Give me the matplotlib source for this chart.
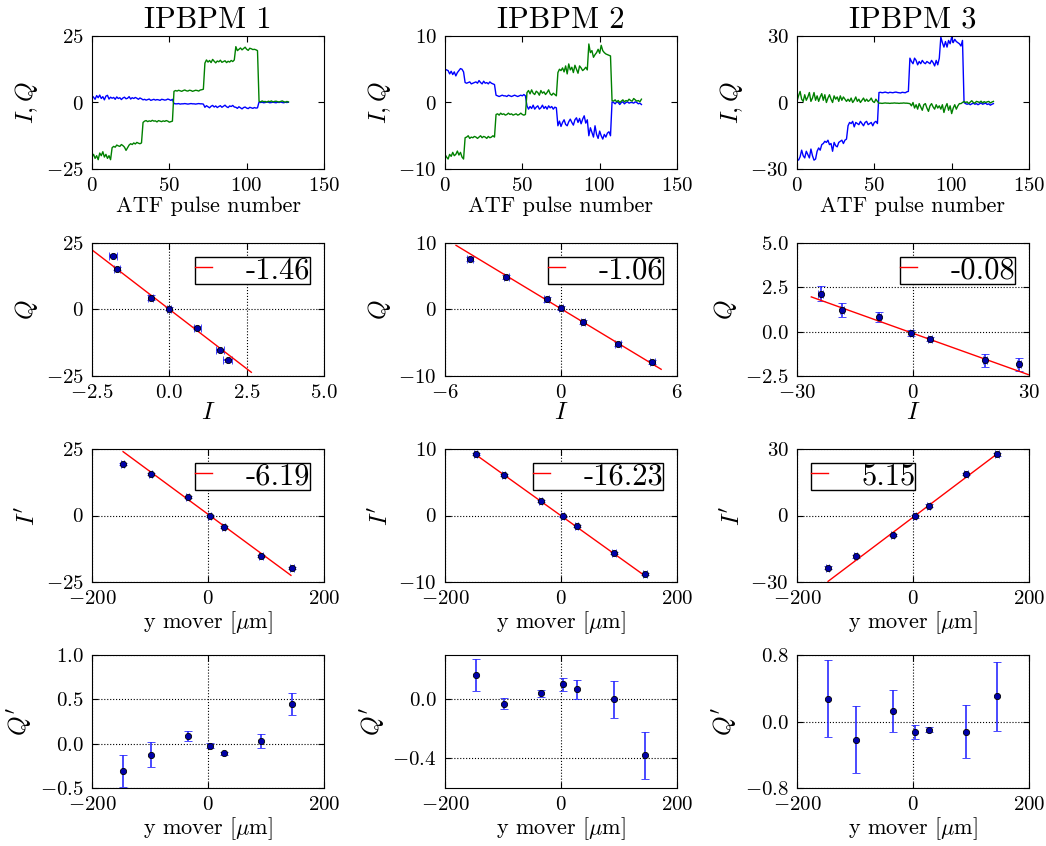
import matplotlib
matplotlib.use("Agg")
from matplotlib import pyplot as plt
import numpy as np

plt.rcParams['font.family'] = 'serif'
plt.rcParams['font.serif'] = ['cmr10']
plt.rcParams['mathtext.fontset'] = 'cm'
plt.rcParams['axes.formatter.use_mathtext'] = True
plt.rcParams['xtick.direction'] = 'in'
plt.rcParams['ytick.direction'] = 'in'
plt.rcParams['xtick.top'] = True
plt.rcParams['ytick.right'] = True
plt.rcParams['xtick.major.size'] = 4
plt.rcParams['ytick.major.size'] = 4
plt.rcParams['xtick.major.pad'] = 6
plt.rcParams['ytick.major.pad'] = 6
plt.rcParams['xtick.labelsize'] = 15
plt.rcParams['ytick.labelsize'] = 15
plt.rcParams['axes.labelsize'] = 16

titles = ["IPBPM 1", "IPBPM 2", "IPBPM 3"]

# ---- row 1: I and Q vs ATF pulse number (segments of 13,20,20,20,20,15,20 pulses)
pulse = np.arange(128)

I_1 = ([2.5, 2.0, 1.2, 2.6, 1.8, 2.8, 1.5, 2.2, 1.0, 2.4, 2.7, 1.3, 2.0]
       + [1.6, 1.9, 1.2, 2.1, 1.5, 1.8, 1.1, 1.7, 2.0, 1.4, 1.6, 2.2, 1.3, 1.8, 1.5, 1.9, 1.6, 1.2, 1.7, 1.4]
       + [1.0, 1.2, 0.9, 1.1, 1.3, 0.8, 1.0, 1.2, 0.9, 1.1, 1.0, 0.8, 1.2, 1.1, 0.9, 1.0, 1.3, 1.1, 0.8, 1.2]
       + [-0.4, -0.5, -0.5, -0.4, -0.6, -0.5, -0.5, -0.4, -0.5, -0.6, -0.5, -0.4, -0.5, -0.5, -0.6, -0.5, -0.4, -0.5, -0.5, -0.6]
       + [-1.8, -1.2, -1.6, -2.0, -1.4, -1.1, -1.7, -1.3, -1.9, -1.5, -1.2, -1.8, -1.4, -1.0, -1.6, -1.9, -1.3, -1.5, -1.1, -1.7]
       + [-1.8, -2.2, -1.6, -2.0, -2.4, -1.9, -1.7, -2.1, -2.3, -1.8, -2.0, -2.2, -1.9, -2.1, -2.0]
       + [0.2, 0.0, 0.1, -0.1, 0.0, 0.2, 0.1, -0.1, 0.0, 0.1, 0.0, -0.1, 0.1, 0.0, 0.2, 0.0, -0.1, 0.1, 0.0, 0.1])
Q_1 = ([-20.5, -19.5, -21.0, -20.0, -21.5, -19.0, -20.0, -18.5, -20.5, -19.5, -21.0, -20.0, -21.5]
       + [-17.0, -16.5, -16.8, -16.0, -16.3, -16.5, -15.8, -16.2, -16.8, -18.0, -17.0, -16.0, -15.5, -15.8, -15.2, -15.6, -15.0, -15.3, -15.5, -15.2]
       + [-7.5, -7.0, -6.8, -7.2, -6.9, -7.1, -6.7, -7.0, -6.9, -7.3, -6.8, -7.0, -7.2, -6.9, -7.1, -6.8, -7.0, -7.4, -7.2, -7.0]
       + [4.2, 4.5, 4.3, 4.6, 4.4, 4.2, 4.5, 4.7, 4.4, 4.3, 4.6, 4.5, 4.2, 4.4, 4.6, 4.5, 4.3, 4.7, 4.8, 5.0]
       + [14.8, 16.0, 15.2, 15.8, 15.0, 16.2, 15.5, 14.9, 15.6, 15.3, 15.9, 15.1, 15.4, 15.7, 15.0, 15.5, 15.2, 15.8, 15.4, 16.0]
       + [21.0, 19.5, 20.0, 20.5, 19.8, 20.3, 20.8, 20.0, 19.6, 20.4, 20.2, 19.9, 20.0, 19.8, 19.5]
       + [0.5, 0.2, 0.6, 0.3, 0.4, 0.1, 0.5, 0.3, 0.6, 0.2, 0.4, 0.5, 0.3, 0.2, 0.4, 0.6, 0.3, 0.1, 0.4, 0.2])

I_2 = ([5.0, 4.9, 4.8, 4.3, 4.7, 4.2, 4.6, 4.0, 4.5, 4.8, 5.1, 5.0, 4.6]
       + [3.0, 2.9, 3.0, 3.1, 2.8, 2.9, 3.0, 3.1, 2.9, 3.3, 3.0, 2.8, 3.2, 2.9, 3.0, 2.8, 3.1, 2.9, 2.8, 2.7]
       + [1.1, 1.0, 0.9, 1.0, 1.1, 1.0, 1.0, 0.9, 1.1, 1.0, 0.9, 1.0, 1.1, 1.0, 0.9, 1.0, 1.1, 1.0, 1.2, 1.0]
       + [-0.5, -1.0, -0.6, -0.9, -0.4, -1.0, -0.7, -0.5, -1.0, -0.8, -0.4, -0.9, -0.6, -1.0, -0.5, -0.8, -0.6, -1.0, -0.7, -0.8]
       + [-3.5, -2.8, -3.6, -3.0, -2.6, -3.3, -3.5, -2.9, -2.5, -3.0, -3.4, -2.6, -2.3, -3.0, -2.4, -3.2, -2.5, -2.0, -3.1, -2.6]
       + [-5.0, -3.8, -4.5, -5.2, -3.5, -4.8, -5.4, -4.3, -5.0, -5.5, -4.8, -5.2, -4.6, -4.4, -5.0]
       + [0.1, 0.0, -0.2, 0.1, 0.0, -0.3, 0.0, 0.1, -0.2, 0.0, 0.1, -0.1, 0.0, 0.0, -0.1, 0.1, 0.0, -0.2, -0.1, -0.3])
Q_2 = ([-7.8, -8.2, -8.5, -7.8, -8.1, -7.5, -8.0, -7.8, -7.3, -7.9, -7.5, -8.2, -8.5]
       + [-5.3, -5.2, -5.0, -5.4, -5.2, -5.3, -5.1, -5.2, -5.4, -5.2, -5.0, -5.3, -5.1, -5.2, -5.4, -5.1, -5.3, -5.2, -5.0, -5.2]
       + [-1.8, -1.7, -1.9, -1.6, -1.8, -1.7, -1.9, -1.8, -1.6, -1.8, -1.7, -1.9, -1.8, -1.7, -1.9, -1.8, -1.6, -1.8, -1.9, -1.8]
       + [1.5, 1.8, 1.3, 1.9, 1.4, 1.2, 1.7, 1.5, 1.1, 1.8, 1.4, 1.6, 1.2, 1.5, 1.9, 1.3, 1.1, 1.4, 1.2, 1.0]
       + [4.5, 5.0, 4.8, 5.2, 4.6, 5.5, 4.3, 5.8, 4.9, 5.3, 4.5, 5.6, 5.0, 4.4, 5.5, 5.2, 4.8, 5.0, 5.3, 4.9]
       + [8.8, 7.5, 7.8, 6.8, 7.2, 7.5, 8.0, 7.4, 8.6, 7.8, 7.5, 7.3, 7.2, 7.1, 7.0]
       + [0.3, 0.2, 0.4, 0.1, 0.3, 0.0, 0.2, 0.4, 0.1, 0.3, 0.2, 0.5, 0.3, 0.2, 0.6, 0.4, 0.2, 0.3, 0.1, 0.5])

I_3 = ([-25.5, -26.0, -24.5, -21.5, -24.0, -25.0, -22.0, -23.5, -25.0, -21.0, -24.0, -26.0, -25.5]
       + [-22.0, -20.5, -21.5, -19.0, -18.5, -17.5, -18.0, -17.0, -19.0, -18.5, -22.0, -18.0, -19.5, -20.0, -18.0, -17.5, -17.0, -18.5, -17.0, -16.5]
       + [-10.5, -9.0, -9.5, -8.5, -11.0, -9.0, -9.5, -10.0, -8.5, -9.5, -10.5, -9.0, -8.5, -10.0, -9.5, -9.0, -10.5, -9.0, -8.5, -9.5]
       + [4.5, 4.6, 4.4, 4.5, 4.7, 4.5, 4.3, 4.6, 4.5, 4.4, 4.6, 4.7, 4.5, 4.4, 4.3, 4.6, 4.5, 4.4, 4.8, 5.0]
       + [20.0, 18.5, 17.5, 20.0, 19.0, 17.0, 18.5, 17.5, 19.0, 18.0, 17.5, 18.5, 18.0, 17.5, 19.0, 18.0, 16.5, 19.0, 17.0, 20.0]
       + [29.5, 27.0, 25.0, 27.5, 25.0, 28.0, 26.5, 29.5, 27.0, 28.5, 27.5, 27.0, 26.5, 25.5, 28.0]
       + [0.0, -0.5, -0.8, -0.5, -1.0, -0.6, -0.3, -0.8, -0.5, -1.0, -0.6, -0.2, -0.8, -0.5, -0.3, -0.9, -0.6, -1.2, -0.8, -0.5])
Q_3 = ([0.5, 3.0, 5.0, 1.5, 0.5, 3.5, 1.0, 2.5, 4.5, 0.5, 2.0, 4.5, 1.0]
       + [3.0, 0.5, 2.5, 4.0, 1.0, 3.5, 0.0, 2.0, 3.5, 1.5, 0.0, 3.0, 1.5, 2.5, 0.5, 3.0, 1.0, 2.5, 1.5, 0.5]
       + [1.5, 0.5, 2.0, 0.0, 1.0, 2.5, 0.5, 1.5, 0.0, 1.0, 2.0, 0.5, 1.5, 0.5, 1.0, 2.0, 0.5, 0.0, 1.5, 0.5]
       + [-0.3, -0.3, -0.4, -0.3, -0.2, -0.3, -0.3, -0.4, -0.3, -0.3, -0.2, -0.3, -0.3, -0.4, -0.3, -0.3, -0.2, -0.3, -0.3, -0.4]
       + [-0.5, -1.5, 0.0, -2.5, -1.0, -3.0, -0.5, -2.0, -3.5, -1.0, -0.5, -2.5, -4.0, -1.5, -0.5, -2.0, -3.0, -1.0, -2.5, -1.5]
       + [-3.0, -1.0, -4.5, -2.0, -0.5, -3.5, -1.5, -5.0, -2.5, -1.0, -3.0, -1.5, -0.5, -0.5, 0.0]
       + [0.5, 0.0, 0.3, -0.5, 0.2, 0.8, 0.0, -0.3, 0.5, 0.3, 0.0, 0.6, -0.2, 0.4, 0.0, 0.3, 0.5, -0.2, 0.2, 0.5])

I_series = [I_1, I_2, I_3]
Q_series = [Q_1, Q_2, Q_3]
row1_ylim = [25, 10, 30]

# ---- row 2: Q vs I per mover position, with fitted rotation angle
I_mean = [[-1.82, -1.69, -0.60, 0.0, 0.91, 1.64, 1.89],
          [-4.70, -2.82, -0.75, -0.02, 1.13, 2.96, 4.73],
          [-23.9, -18.4, -8.9, -0.5, 4.4, 18.6, 27.4]]
Q_mean = [[20.2, 15.4, 4.5, 0.3, -6.9, -15.3, -19.1],
          [7.58, 4.96, 1.54, 0.28, -1.84, -5.21, -7.93],
          [2.15, 1.21, 0.83, -0.08, -0.43, -1.62, -1.85]]
I_err = [[0.12, 0.1, 0.08, 0.06, 0.1, 0.14, 0.15],
         [0.15, 0.15, 0.12, 0.1, 0.1, 0.15, 0.15],
         [0.6, 0.5, 0.5, 0.4, 0.4, 0.6, 0.5]]
Q_err = [[0.6, 0.6, 0.8, 0.5, 0.6, 0.6, 0.5],
         [0.35, 0.3, 0.4, 0.3, 0.3, 0.3, 0.3],
         [0.4, 0.4, 0.28, 0.15, 0.12, 0.35, 0.38]]
IQ_fit_x = [[-2.6, 2.65], [-5.43, 5.18], [-26.3, 29.8]]
IQ_fit_y = [[23.3, -23.6], [9.65, -8.99], [1.96, -2.42]]
IQ_angle = ["-1.46", "-1.06", "-0.08"]
row2_xlim = [(-2.5, 5.0), (-6, 6), (-30, 30)]
row2_xticks = [[-2.5, 0.0, 2.5, 5.0], [-6, 0, 6], [-30, 0, 30]]
row2_ylim = [(-25, 25), (-10, 10), (-2.5, 5.0)]
row2_yticks = [[-25, 0, 25], [-10, 0, 10], [-2.5, 0.0, 2.5, 5.0]]

# ---- rows 3 and 4: rotated I', Q' vs y mover
mover = [-147, -99, -35, 3, 27, 91, 145]
Ip_mean = [[19.25, 15.5, 7.1, -0.1, -4.4, -15.1, -19.9],
           [9.2, 6.05, 2.25, -0.15, -1.65, -5.65, -8.75],
           [-23.5, -18.4, -8.85, -0.45, 4.5, 18.75, 27.6]]
Ip_err = [[0.4, 0.4, 0.4, 0.3, 0.4, 0.4, 0.4],
          [0.15, 0.15, 0.15, 0.1, 0.15, 0.15, 0.15],
          [0.6, 0.6, 0.5, 0.5, 0.5, 0.6, 0.6]]
Ip_fit_x = [[-146.4, 143], [-147.8, 146], [-146.4, 144]]
Ip_fit_y = [[24.0, -22.5], [9.2, -9.15], [-29.7, 27.6]]
Ip_slope = ["-6.19", "-16.23", "5.15"]
Ip_legend_loc = ["upper right", "upper right", "upper left"]
row3_ylim = [25, 10, 30]

Qp_mean = [[-0.305, -0.124, 0.086, -0.023, -0.109, 0.03, 0.444],
           [0.165, -0.029, 0.041, 0.102, 0.068, 0.0, -0.377],
           [0.274, -0.218, 0.125, -0.125, -0.097, -0.121, 0.302]]
Qp_err = [[0.18, 0.143, 0.056, 0.026, 0.017, 0.08, 0.122],
          [0.111, 0.038, 0.024, 0.044, 0.064, 0.123, 0.159],
          [0.46, 0.40, 0.254, 0.08, 0.034, 0.317, 0.413]]
row4_ylim = [(-0.5, 1.0), (-0.6, 0.3), (-0.8, 0.8)]
row4_yticks = [[-0.5, 0.0, 0.5, 1.0], [-0.4, 0.0], [-0.8, 0.0, 0.8]]

mover_err = 3.0

fig = plt.figure(figsize=(10.46, 8.46), dpi=100)
W, H = 1046., 846.
col_left = [92, 445, 797]
row_top = [36, 243, 449, 655]
aw, ah = 232, 133


def make_ax(r, c):
    return fig.add_axes([col_left[c] / W, 1 - (row_top[r] + ah) / H, aw / W, ah / H])


def grid_on(ax):
    ax.grid(True, color='k', linestyle=':', linewidth=0.8)


def fit_legend(ax, loc):
    leg = ax.legend(loc=loc, fontsize=22, handlelength=0.55, handletextpad=1.1,
                    borderpad=0.0, borderaxespad=0.45, fancybox=False, framealpha=1)
    leg.get_frame().set_edgecolor('k')


eb_kw = dict(fmt='o', color='b', ecolor='#2a2aff', markersize=4.5, markerfacecolor='#0000aa',
             markeredgecolor='k', markeredgewidth=0.6, capsize=3, elinewidth=1.2, capthick=1.2)

for c in range(3):
    # row 1
    ax = make_ax(0, c)
    ax.plot(pulse, I_series[c], '-', color='b', linewidth=1)
    ax.plot(pulse, Q_series[c], '-', color='g', linewidth=1)
    ax.set_xlim(0, 150)
    ax.set_xticks([0, 50, 100, 150])
    ax.set_ylim(-row1_ylim[c], row1_ylim[c])
    ax.set_yticks([-row1_ylim[c], 0, row1_ylim[c]])
    ax.set_xlabel("ATF pulse number", labelpad=1)
    ax.set_ylabel("$I, Q$", fontsize=18)
    ax.set_title(titles[c], fontsize=22, pad=6)

    # row 2
    ax = make_ax(1, c)
    ax.errorbar(I_mean[c], Q_mean[c], xerr=I_err[c], yerr=Q_err[c], **eb_kw)
    ax.plot(IQ_fit_x[c], IQ_fit_y[c], '-', color='r', linewidth=1, label=IQ_angle[c])
    ax.set_xlim(*row2_xlim[c])
    ax.set_xticks(row2_xticks[c])
    ax.set_ylim(*row2_ylim[c])
    ax.set_yticks(row2_yticks[c])
    ax.set_xlabel("$I$", fontsize=18, labelpad=0)
    ax.set_ylabel("$Q$", fontsize=18)
    grid_on(ax)
    fit_legend(ax, 'upper right')

    # row 3
    ax = make_ax(2, c)
    ax.errorbar(mover, Ip_mean[c], xerr=mover_err, yerr=Ip_err[c], **eb_kw)
    ax.plot(Ip_fit_x[c], Ip_fit_y[c], '-', color='r', linewidth=1, label=Ip_slope[c])
    ax.set_xlim(-200, 200)
    ax.set_xticks([-200, 0, 200])
    ax.set_ylim(-row3_ylim[c], row3_ylim[c])
    ax.set_yticks([-row3_ylim[c], 0, row3_ylim[c]])
    ax.set_xlabel(r"y mover [$\mu$m]", labelpad=1)
    ax.set_ylabel("$I'$", fontsize=18)
    grid_on(ax)
    fit_legend(ax, Ip_legend_loc[c])

    # row 4
    ax = make_ax(3, c)
    ax.errorbar(mover, Qp_mean[c], yerr=Qp_err[c], **eb_kw)
    ax.set_xlim(-200, 200)
    ax.set_xticks([-200, 0, 200])
    ax.set_ylim(*row4_ylim[c])
    ax.set_yticks(row4_yticks[c])
    ax.set_xlabel(r"y mover [$\mu$m]", labelpad=1)
    ax.set_ylabel("$Q'$", fontsize=18)
    grid_on(ax)

fig.savefig("out.png", dpi=100, facecolor='white')
